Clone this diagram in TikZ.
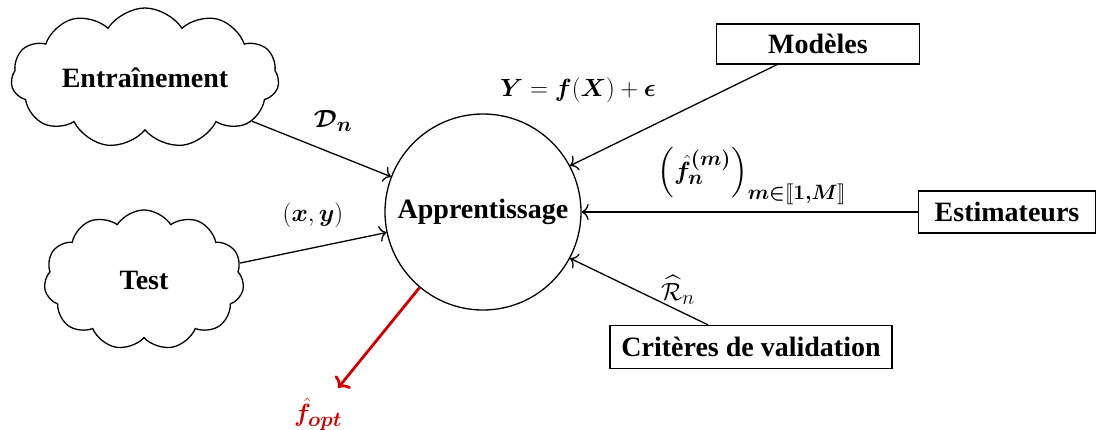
\documentclass[tikz,border=0pt]{standalone}
\usepackage{amsmath,amssymb,bm}
\usepackage{stmaryrd}
\usepackage{fontspec}
\setmainfont{Liberation Serif}
\usetikzlibrary{shapes.symbols,arrows.meta,calc}
\definecolor{myred}{RGB}{204,0,0}
\tikzset{
  big/.style={font=\fontsize{28}{32}\selectfont\bfseries},
  cloudnode/.style={cloud, draw, line width=1.3pt, cloud puffs=11, cloud puff arc=115, cloud ignores aspect, inner sep=0pt, big},
  boxnode/.style={draw, line width=1.3pt, rectangle, inner sep=0pt, big},
  conn/.style={line width=1.3pt, -{To[length=7pt,width=16pt]}},
  redconn/.style={line width=2.8pt, myred, -{To[length=9pt,width=20pt]}},
  lab/.style={font=\fontsize{28}{32}\selectfont}
}
\begin{document}
\begin{tikzpicture}[x=1pt,y=-1pt]
\useasboundingbox (0,0) rectangle (1109,429);
\node[cloudnode, minimum width=268pt, minimum height=140pt] (ent) at (145,78) {Entraînement};
\node[cloudnode, minimum width=200pt, minimum height=140pt] (tst) at (144,280) {Test};
\node[circle, draw, line width=1.3pt, minimum size=196pt, inner sep=0pt, big] (app) at (483,212) {Apprentissage};
\node[boxnode, minimum width=203pt, minimum height=40pt] (mod) at (818,44) {Modèles};
\node[boxnode, minimum width=177pt, minimum height=42pt] (est) at (1007,212) {Estimateurs};
\node[boxnode, minimum width=282pt, minimum height=43pt] (cri) at (751,347) {Critères de validation};
\coordinate (fend) at (338,388);

\draw[conn] (ent.-22) -- (app.159);
\draw[conn] (tst.10) -- (app.192);
\draw[conn] ([xshift=-41pt]mod.south) -- (app.28);
\draw[conn] (est.west) -- (app.east);
\draw[conn] ([xshift=-43pt]cri.north) -- (app.-28);
\draw[redconn] (app.230) -- (fend);

\node[lab] (ld) at (333,121) {$\bm{\mathcal{D}_n}$};
\node[lab] (lxy) at (313,215) {$(\bm{x},\bm{y})$};
\node[lab] (ly) at (578,90) {$\bm{Y}=\bm{f}(\bm{X})+\bm{\epsilon}$};
\node[lab] (lf) at (752,176) {$\left(\bm{\hat f_n^{(m)}}\right)_{\bm{m\in\llbracket 1,M\rrbracket}}$};
\node[lab] (lr) at (678,290) {$\widehat{\mathcal{R}}_n$};
\node[lab, text=myred] (lo) at (318,414) {$\bm{\hat f_{opt}}$};
\end{tikzpicture}
\end{document}
